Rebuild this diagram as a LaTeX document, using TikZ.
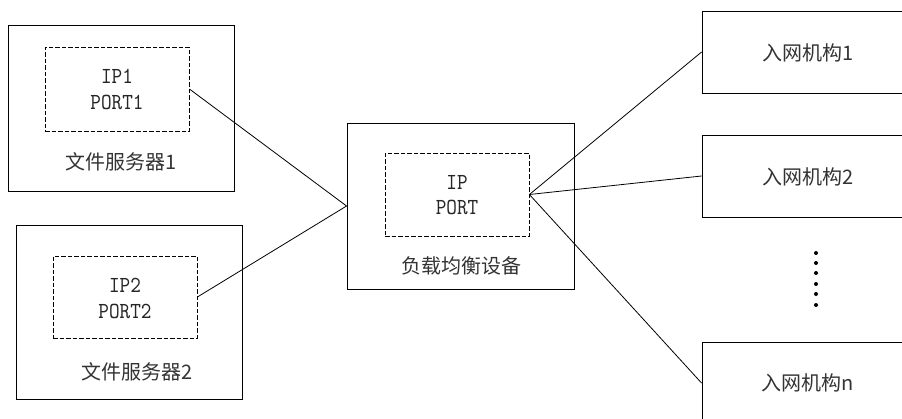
\documentclass[tikz,border=0pt]{standalone}
\usepackage{fontspec}
\newfontfamily\cjk{Noto Sans CJK SC}
\newfontfamily\lat[FakeStretch=0.88]{lmmono10-regular.otf}
\begin{document}
\begin{tikzpicture}[x=1pt,y=-1pt,
  box/.style={draw=black,line width=0.9pt,inner sep=0pt,rectangle},
  dbox/.style={draw=black,line width=0.8pt,dash pattern=on 4.5pt off 2pt,inner sep=0pt,rectangle},
  lab/.style={inner sep=0pt,font=\fontsize{20pt}{22pt}\selectfont\cjk,text=black!80},
  ltx/.style={inner sep=0pt,font=\fontsize{23pt}{25pt}\selectfont\lat,text=black!85},
  link/.style={draw=black,line width=0.8pt},
  dotm/.style={fill=black,circle,inner sep=0pt,minimum size=4pt}]
\useasboundingbox (0,0) rectangle (902,418);
\clip (0,0) rectangle (902,418);
% server 1
\node[box,minimum width=226pt,minimum height=166pt] (s1) at (121,108) {};
\node[dbox,minimum width=144pt,minimum height=84pt] (s1i) at (117,89) {};
\node[ltx] (s1ip) at (117,76) {IP1};
\node[ltx] (s1port) at (117,102) {PORT1};
\node[lab] (s1lab) at (121,162) {文件服务器1};
% server 2
\node[box,minimum width=226pt,minimum height=174pt] (s2) at (129,312) {};
\node[dbox,minimum width=144pt,minimum height=82pt] (s2i) at (125,297) {};
\node[ltx] (s2ip) at (125,285) {IP2};
\node[ltx] (s2port) at (125,311) {PORT2};
\node[lab] (s2lab) at (137,372) {文件服务器2};
% load balancer
\node[box,minimum width=227pt,minimum height=166pt] (lb) at (460.5,206) {};
\node[dbox,minimum width=144pt,minimum height=83pt] (lbi) at (457,194.5) {};
\node[ltx] (lbip) at (457,182) {IP};
\node[ltx] (lbport) at (457,207) {PORT};
\node[lab] (lblab) at (461,266) {负载均衡设备};
% institutions
\node[box,minimum width=220pt,minimum height=82pt] (r1) at (812,52) {};
\node[box,minimum width=220pt,minimum height=82pt] (r2) at (812,176) {};
\node[box,minimum width=220pt,minimum height=82pt] (rn) at (812,383) {};
\node[lab] (r1lab) at (808,53) {入网机构1};
\node[lab] (r2lab) at (808,177) {入网机构2};
\node[lab] (rnlab) at (808,383) {入网机构n};
% dots
\foreach \yy [count=\i] in {253,263,273,284,294,305}
  \node[dotm] (d\i) at (816,\yy) {};
% links
\draw[link] (s1i.east) -- (lb.west);
\draw[link] (s2i.east) -- (lb.west);
\draw[link] (lbi.east) -- (r1.west);
\draw[link] (lbi.east) -- (r2.west);
\draw[link] (lbi.east) -- (rn.west);
\end{tikzpicture}
\end{document}
